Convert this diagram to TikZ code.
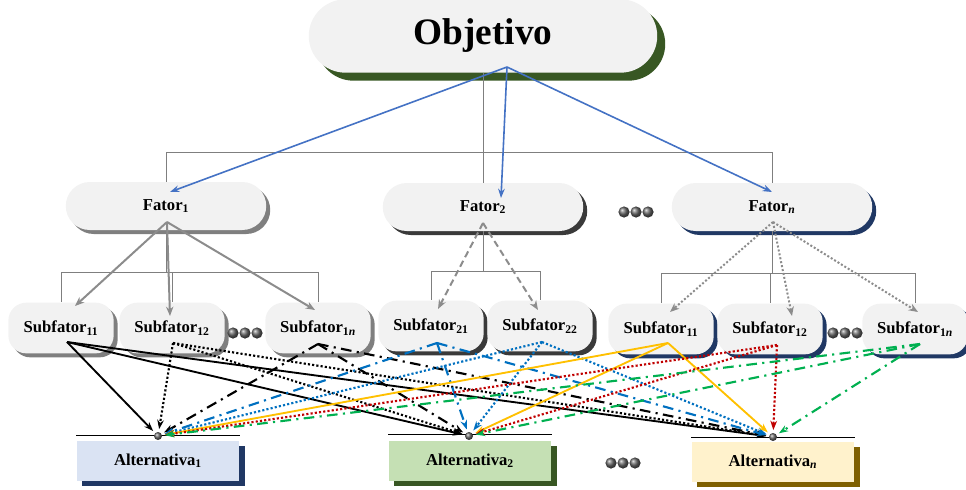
\documentclass[tikz,border=0pt]{standalone}
\usepackage{fontspec}
\setmainfont{Liberation Serif}
\usetikzlibrary{shapes.misc,shadows,arrows.meta}
\definecolor{boxgray}{HTML}{F2F2F2}
\definecolor{shgreen}{HTML}{385723}
\definecolor{shgray}{HTML}{7F7F7F}
\definecolor{shdark}{HTML}{3A3A3A}
\definecolor{shblue}{HTML}{203864}
\definecolor{shbrown}{HTML}{7F6000}
\definecolor{altblue}{HTML}{DAE3F3}
\definecolor{altgreen}{HTML}{C5E0B4}
\definecolor{altyellow}{HTML}{FFF2CC}
\definecolor{arrowblue}{HTML}{4472C4}
\definecolor{arrowgray}{HTML}{8C8C8C}
\definecolor{lineblue}{HTML}{0070C0}
\definecolor{lineorange}{HTML}{FFC000}
\definecolor{linered}{HTML}{C00000}
\definecolor{linegreen}{HTML}{00B050}
\begin{document}
\begin{tikzpicture}[x=0.75pt,y=-0.75pt]
	 \tikzstyle{goal}=[rounded rectangle, fill=boxgray, minimum width=268pt, minimum height=55pt, font=\fontsize{28}{32}\bfseries,
	   drop shadow={shadow xshift=6pt, shadow yshift=-6pt, fill=shgreen, opacity=1}]
	 \tikzstyle{factor}=[rounded rectangle, fill=boxgray, minimum width=157pt, minimum height=36pt, font=\fontsize{12.5}{14}\bfseries]
	 \tikzstyle{subfactor}=[rectangle, rounded corners=13.5pt, fill=boxgray, minimum width=79pt, minimum height=38pt, font=\fontsize{12.5}{14}\bfseries]
	 \tikzstyle{alternative}=[rectangle, minimum width=122pt, minimum height=30pt, font=\fontsize{12.5}{14}\bfseries]
	 \tikzstyle{gray shadow}=[drop shadow={shadow xshift=3pt, shadow yshift=-3pt, fill=shgray, opacity=1}]
	 \tikzstyle{dark shadow}=[drop shadow={shadow xshift=3pt, shadow yshift=-3pt, fill=shdark, opacity=1}]
	 \tikzstyle{blue shadow}=[drop shadow={shadow xshift=3pt, shadow yshift=-3pt, fill=shblue, opacity=1}]
	 \tikzstyle{alt shadow}=[drop shadow={shadow xshift=4pt, shadow yshift=-4pt, fill=#1, opacity=1}]
	 \tikzstyle{tree}=[draw, line width=0.5pt, shgray]
	 \tikzstyle{goal edge}=[draw, line width=1.2pt, arrowblue, -{Stealth[length=7pt,width=5pt]}]
	 \tikzstyle{factor edge}=[draw, line width=1.5pt, arrowgray, -{Stealth[length=7pt,width=5.5pt]}]
	 \tikzstyle{link}=[draw, line width=1.4pt, -{Stealth[length=7pt,width=5pt]}, shorten >=2pt]
	 \tikzstyle{dotted link}=[link, line width=1.6pt, dash pattern=on 1.6pt off 1.6pt]
	 \tikzstyle{dashdot link}=[link, line width=1.6pt, dash pattern=on 8pt off 4pt on 1.6pt off 4pt]
	 \tikzstyle{dot}=[circle, inner sep=0pt, minimum size=6pt, ball color=black!60]
	 \useasboundingbox (0,0) rectangle (966,489);
	 % nodes
	 \node[goal] (obj) at (483,36) {Objetivo};
	 \node[factor, gray shadow] (f1) at (166,206) {Fator\textsubscript{1}};
	 \node[factor, dark shadow] (f2) at (483,207) {Fator\textsubscript{2}};
	 \node[factor, blue shadow] (fn) at (772,207) {Fator\textsubscript{\textit{n}}};
	 \node[subfactor, gray shadow] (s11) at (61,328) {Subfator\textsubscript{11}};
	 \node[subfactor, gray shadow] (s12) at (172,328) {Subfator\textsubscript{12}};
	 \node[subfactor, gray shadow] (s1n) at (318,328) {Subfator\textsubscript{1\textit{n}}};
	 \node[subfactor, dark shadow] (s21) at (431,326) {Subfator\textsubscript{21}};
	 \node[subfactor, dark shadow] (s22) at (540,326) {Subfator\textsubscript{22}};
	 \node[subfactor, blue shadow] (sn1) at (661,329) {Subfator\textsubscript{11}};
	 \node[subfactor, blue shadow] (sn2) at (770,329) {Subfator\textsubscript{12}};
	 \node[subfactor, blue shadow] (snn) at (915,329) {Subfator\textsubscript{1\textit{n}}};
	 \node[alternative, fill=altblue, alt shadow=shblue] (a1) at (158,461) {Alternativa\textsubscript{1}};
	 \node[alternative, fill=altgreen, alt shadow=shgreen] (a2) at (470,461) {Alternativa\textsubscript{2}};
	 \node[alternative, fill=altyellow, alt shadow=shbrown] (an) at (773,462) {Alternativa\textsubscript{\textit{n}}};
	 % dots
	 \foreach \x/\y in {624/212, 636/212, 648/212, 233/333, 245/333, 257/333, 833/333, 845/333, 857/333, 611/463, 623/463, 635/463}
	   \shade[ball color=black!60] (\x,\y) circle (4.2pt);
	 % tree lines
	 \coordinate (t0) at (483,152);
	 \draw[tree] (obj.south) -- (t0) -| (f1.north);
	 \draw[tree] (t0) -| (fn.north);
	 \draw[tree] (t0) -- (f2.north);
	 \draw[tree] (f1.south) -- ++(0,42) -| (s11.north);
	 \draw[tree] (f1.south) ++(0,42) -| (s1n.north);
	 \draw[tree] (f1.south) ++(0,42) -| (s12.north);
	 \draw[tree] (f2.south) -- ++(0,40) -| (s21.north);
	 \draw[tree] (f2.south) ++(0,40) -| (s22.north);
	 \draw[tree] (fn.south) -- ++(0,42) -| (sn1.north);
	 \draw[tree] (fn.south) ++(0,42) -| (snn.north);
	 \draw[tree] (fn.south) ++(0,42) -| (sn2.north);
	 \draw[tree, black] ([yshift=4pt]a1.north west) -- ([yshift=4pt]a1.north east);
	 \draw[tree, black] ([yshift=5pt]a2.north west) -- ([yshift=5pt]a2.north east);
	 \draw[tree, black] ([yshift=3pt]an.north west) -- ([yshift=3pt]an.north east);
	 % goal and factor arrows
	 \coordinate (o) at (507,67);
	 \coordinate (e1) at (170,192);
	 \coordinate (e2) at (501,198);
	 \coordinate (en) at (772,192);
	 \draw[goal edge] (o) -- (e1);
	 \draw[goal edge] (o) -- (e2);
	 \draw[goal edge] (o) -- (en);
	 \coordinate (g1) at (167,222);
	 \coordinate (g2) at (483,223);
	 \coordinate (gn) at (773,222);
	 \coordinate (h11) at (75,306);
	 \coordinate (h12) at (170,316);
	 \coordinate (h1n) at (315,310);
	 \coordinate (h21) at (438,309);
	 \coordinate (h22) at (538,310);
	 \coordinate (hn1) at (670,312);
	 \coordinate (hn2) at (792,316);
	 \coordinate (hnn) at (918,312);
	 \draw[factor edge] (g1) -- (h11);
	 \draw[factor edge] (g1) -- (h12);
	 \draw[factor edge] (g1) -- (h1n);
	 \draw[factor edge, dash pattern=on 5pt off 3pt] (g2) -- (h21);
	 \draw[factor edge, dash pattern=on 5pt off 3pt] (g2) -- (h22);
	 \draw[factor edge, dash pattern=on 1.5pt off 1.5pt] (gn) -- (hn1);
	 \draw[factor edge, dash pattern=on 1.5pt off 1.5pt] (gn) -- (hn2);
	 \draw[factor edge, dash pattern=on 1.5pt off 1.5pt] (gn) -- (hnn);
	 % alternatives
	 \node[dot] (d1) at (158,436) {};
	 \node[dot] (d2) at (469,436) {};
	 \node[dot] (dn) at (773,437) {};
	 \coordinate (p11) at (67,342);
	 \coordinate (p12) at (173,343);
	 \coordinate (p1n) at (318,344);
	 \coordinate (p21) at (437,343);
	 \coordinate (p22) at (542,342);
	 \coordinate (pn1) at (668,343);
	 \coordinate (pn2) at (777,345);
	 \coordinate (pnn) at (920,344);
	 \draw[link, black] (p11) -- (d1);
	 \draw[link, black] (p11) -- (d2);
	 \draw[link, black] (p11) -- (dn);
	 \draw[dotted link, black] (p12) -- (d1);
	 \draw[dotted link, black] (p12) -- (d2);
	 \draw[dotted link, black] (p12) -- (dn);
	 \draw[dashdot link, black] (p1n) -- (d1);
	 \draw[dashdot link, black] (p1n) -- (d2);
	 \draw[dashdot link, black] (p1n) -- (dn);
	 \draw[dashdot link, lineblue] (p21) -- (d1);
	 \draw[dashdot link, lineblue] (p21) -- (d2);
	 \draw[dashdot link, lineblue] (p21) -- (dn);
	 \draw[dotted link, lineblue] (p22) -- (d1);
	 \draw[dotted link, lineblue] (p22) -- (d2);
	 \draw[dotted link, lineblue] (p22) -- (dn);
	 \draw[link, lineorange] (pn1) -- (d1);
	 \draw[link, lineorange] (pn1) -- (d2);
	 \draw[link, lineorange] (pn1) -- (dn);
	 \draw[dotted link, linered] (pn2) -- (d1);
	 \draw[dotted link, linered] (pn2) -- (d2);
	 \draw[dotted link, linered] (pn2) -- (dn);
	 \draw[dashdot link, linegreen] (pnn) -- (d1);
	 \draw[dashdot link, linegreen] (pnn) -- (d2);
	 \draw[dashdot link, linegreen] (pnn) -- (dn);
\end{tikzpicture}
\end{document}
